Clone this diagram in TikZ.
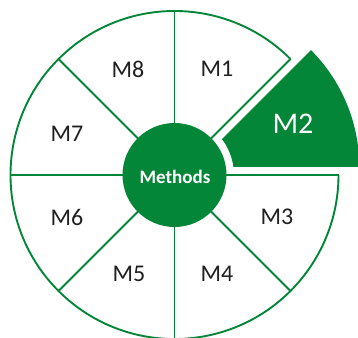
\documentclass[tikz,border=0pt]{standalone}
\usepackage{fontspec}
\setmainfont{Carlito}
\definecolor{mgreen}{RGB}{4,134,56}
\begin{document}
\begin{tikzpicture}[x=1pt,y=1pt,
  seg/.style={draw=mgreen,line width=1.9pt},
  lbl/.style={text=black!88,font=\fontsize{24}{24}\selectfont,inner sep=0pt},
  hub/.style={circle,fill=mgreen,minimum size=104pt,inner sep=0pt,text=white,font=\bfseries\fontsize{19}{19}\selectfont}]
\useasboundingbox (-174.5,-162) rectangle (183.5,175);
\clip (-174.5,-162) rectangle (183.5,175);
% outer arc (missing where M2 is pulled out)
\draw[seg] (45:164) arc[start angle=45,end angle=360,radius=164];
% spokes
\foreach \a in {0,45,...,315}{
  \draw[seg] (0,0) -- (\a:164);
}
% pulled-out M2 wedge
\fill[mgreen] (58.93,8.2) -- (184.8,8.2) arc[start angle=0,end angle=45,radius=165]
  -- (47.47,35.87) arc[start angle=37.07,end angle=7.92,radius=59.5] -- cycle;
% hub
\node[hub] (hub) at (0,0) {};
\node[text=white,font=\bfseries\fontsize{19}{19}\selectfont,inner sep=0pt] (methods) at (0.5,-1.5) {Methods};
% labels
\node[lbl] (m1) at (42.5,106) {M1};
\node[lbl,text=white,font=\fontsize{30}{30}\selectfont] (m2) at (118.5,51) {M2};
\node[lbl] (m3) at (102.5,-42) {M3};
\node[lbl] (m4) at (42.5,-99) {M4};
\node[lbl] (m5) at (-45.5,-99) {M5};
\node[lbl] (m6) at (-107.5,-42) {M6};
\node[lbl] (m7) at (-107.5,41) {M7};
\node[lbl] (m8) at (-46.5,106) {M8};
\end{tikzpicture}
\end{document}
